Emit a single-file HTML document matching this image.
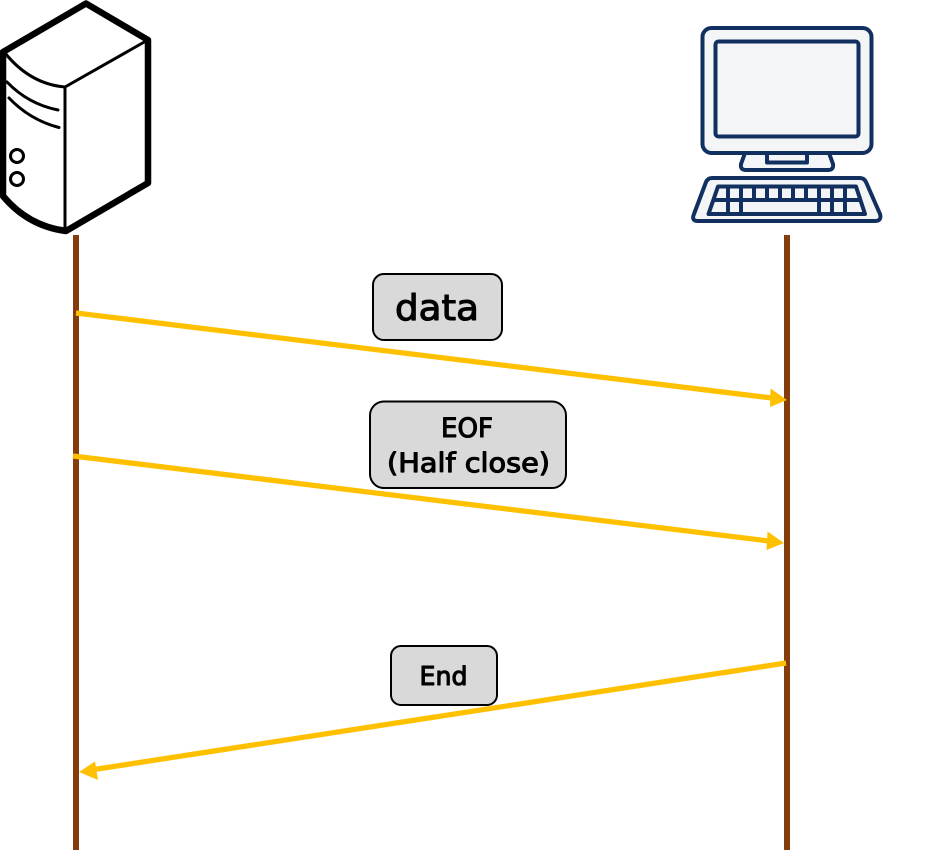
<!DOCTYPE html>
<html>
<head>
<meta charset="utf-8">
<style>
html,body{margin:0;padding:0;background:#fff}
svg{display:block}
text{font-family:"DejaVu Sans","Liberation Sans",sans-serif;fill:#000;stroke:#000;stroke-width:1.1;stroke-linejoin:round}
</style>
</head>
<body>
<svg width="932" height="853" viewBox="0 0 932 853" xmlns="http://www.w3.org/2000/svg">
<!-- Server -->
<g fill="none" stroke="#000" stroke-linecap="round" stroke-linejoin="round">
<path d="M86 3.500 L148 40 L148 183 L66 231 Q28 226 3 196 L3 52 Z" stroke-width="6.500"/>
<path d="M146 41 L65 87 L65 231" stroke-width="3"/>
<path d="M5 53 Q30 84 65 87" stroke-width="3"/>
<path d="M7 82 Q28 104 58 110" stroke-width="3"/>
<path d="M9 98 Q30 120 59 127.500" stroke-width="3"/>
<circle cx="17" cy="156" r="6.500" stroke-width="3"/>
<circle cx="17" cy="179" r="6.500" stroke-width="3"/>
</g>
<!-- Computer -->
<g stroke="#12305f" stroke-width="4" fill="#f4f5f7" stroke-linejoin="round">
<path d="M745 153 L741 164 Q740 170 746 170 L828 170 Q834 170 833 164 L829 153 Z"/>
<path d="M767 153 L767 162.500 L807 162.500 L807 153" />
<rect x="702.500" y="28" width="169" height="125" rx="9"/>
<rect x="715.500" y="41.500" width="143" height="95" rx="3"/>
<path d="M712 178 L860 178 Q864 178 866 182 L880 214 Q882 221 875 221 L698 221 Q691 221 694 214 L706 182 Q708 178 712 178 Z"/>
<path d="M718 186.500 L856 186.500 L865 214 L708.500 214 Z" fill="#f4f5f7"/>
<path d="M714 200 L861 200 M728 186.500 V214 M741 186.500 V214 M754 186.500 V200 M767 186.500 V200 M780 186.500 V200 M793 186.500 V200 M806 186.500 V200 M819 186.500 V214 M832 186.500 V214 M845 186.500 V214" fill="none"/>
</g>
<!-- Lifelines -->
<rect x="73" y="235" width="6" height="615" fill="#843c0c"/>
<rect x="784" y="235" width="6" height="615" fill="#843c0c"/>
<!-- Arrows -->
<g stroke="#ffc000" stroke-width="5.300" fill="none">
<line x1="76" y1="313" x2="772" y2="398"/>
<line x1="73" y1="456" x2="769" y2="541"/>
<line x1="786" y1="663" x2="94" y2="769.500"/>
</g>
<g fill="#ffc000">
<polygon points="787,400 770,407 770.500,388.500"/>
<polygon points="784,543 766.500,550 767.500,531.500"/>
<polygon points="79,772 95,761.500 98,780"/>
</g>
<!-- Boxes -->
<g fill="#d9d9d9" stroke="#000" stroke-width="2">
<rect x="373" y="274" width="129" height="66" rx="11"/>
<rect x="370" y="401.500" width="196" height="86.500" rx="14"/>
<rect x="391" y="646" width="106" height="59" rx="10"/>
</g>
<text x="395" y="320" font-size="36" textLength="84" lengthAdjust="spacingAndGlyphs">data</text>
<text x="441" y="437" font-size="27" textLength="52" lengthAdjust="spacingAndGlyphs">EOF</text>
<text x="387" y="472" font-size="27" textLength="163" lengthAdjust="spacingAndGlyphs">(Half close)</text>
<text x="419.500" y="685" font-size="26" textLength="48" lengthAdjust="spacingAndGlyphs">End</text>
</svg>
</body>
</html>
